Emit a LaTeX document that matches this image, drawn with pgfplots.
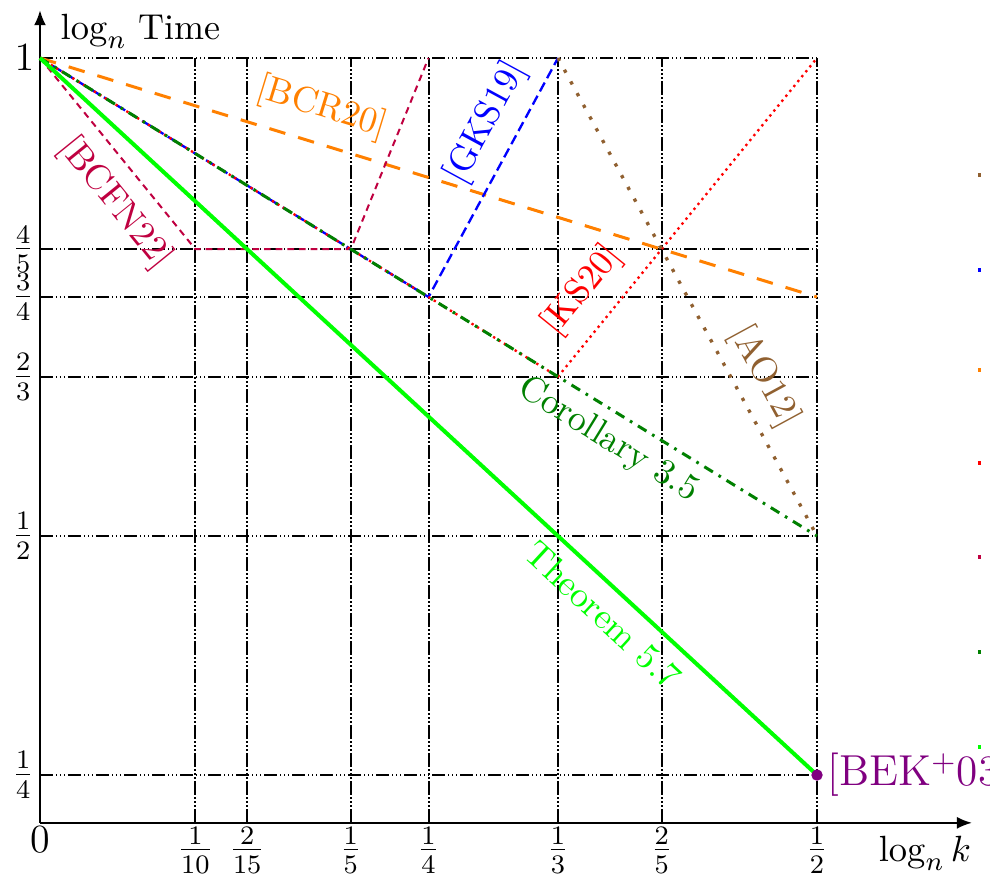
\documentclass[border=0pt]{standalone}
\usepackage{pgfplots}
\pgfplotsset{compat=1.18}
\usetikzlibrary{arrows.meta}
\colorlet{aobrown}{brown!75!black}
\begin{document}
\begin{tikzpicture}[lab/.style={font=\fontsize{10.8}{13}\selectfont}]
\begin{axis}[
  x=466.2pt, y=286.8pt,
  xmin=0, xmax=0.5997, ymin=0.2, ymax=1.05,
  axis lines=left,
  axis line style={line width=0.6pt, -{Latex[length=4.5pt,width=3.6pt]}},
  clip=false,
  major tick length=0pt,
  xtick={0,0.1,0.133333,0.2,0.25,0.333333,0.4,0.5},
  xticklabels={$0$,$\frac{1}{10}$,$\frac{2}{15}$,$\frac{1}{5}$,$\frac{1}{4}$,$\frac{1}{3}$,$\frac{2}{5}$,$\frac{1}{2}$},
  ytick={0.25,0.5,0.666667,0.75,0.8,1},
  yticklabels={$\frac{1}{4}$,$\frac{1}{2}$,$\frac{2}{3}$,$\frac{3}{4}$,$\frac{4}{5}$,$1$},
  tick label style={font=\large},
  xticklabel style={inner sep=0pt, yshift=-1pt},
  yticklabel style={inner sep=1.5pt},
  gridline/.style={black, line width=0.6pt, dash pattern=on 4pt off 0.8pt on 0.4pt off 0.8pt on 0.4pt off 0.8pt on 0.4pt off 0.8pt, forget plot},
]
% grid
\addplot[gridline] coordinates {(0.1,0.2) (0.1,1)};
\addplot[gridline] coordinates {(0.133333,0.2) (0.133333,1)};
\addplot[gridline] coordinates {(0.2,0.2) (0.2,1)};
\addplot[gridline] coordinates {(0.25,0.2) (0.25,1)};
\addplot[gridline] coordinates {(0.333333,0.2) (0.333333,1)};
\addplot[gridline] coordinates {(0.4,0.2) (0.4,1)};
\addplot[gridline] coordinates {(0.5,0.2) (0.5,1)};
\addplot[gridline] coordinates {(0,0.25) (0.5,0.25)};
\addplot[gridline] coordinates {(0,0.5) (0.5,0.5)};
\addplot[gridline] coordinates {(0,0.666667) (0.5,0.666667)};
\addplot[gridline] coordinates {(0,0.75) (0.5,0.75)};
\addplot[gridline] coordinates {(0,0.8) (0.5,0.8)};
\addplot[gridline] coordinates {(0,1) (0.5,1)};
% data
\addplot[orange, line width=0.9pt, dash pattern=on 5pt off 4pt] coordinates {(0,1) (0.5,0.75)};
\addplot[purple, line width=0.6pt, dash pattern=on 2pt off 1.5pt] coordinates {(0,1) (0.1,0.8) (0.2,0.8) (0.25,1)};
\addplot[blue, line width=0.7pt, dash pattern=on 3pt off 1.5pt] coordinates {(0,1) (0.25,0.75) (0.333333,1)};
\addplot[red, line width=0.7pt, dash pattern=on 0.7pt off 1.2pt] coordinates {(0,1) (0.333333,0.666667) (0.5,1)};
\addplot[aobrown, line width=1pt, dash pattern=on 1pt off 3pt] coordinates {(0.333333,1) (0.5,0.5)};
\addplot[green!50!black, line width=0.9pt, dash pattern=on 3pt off 2pt on 0.8pt off 2pt] coordinates {(0,1) (0.5,0.5)};
\addplot[green, line width=1.2pt] coordinates {(0,1) (0.5,0.25)};
\addplot[violet, only marks, mark=*, mark size=1.5pt] coordinates {(0.5,0.25)};
% legend fragments at the right edge
\addplot[aobrown, line width=1pt] coordinates {(0.6035,0.8776) (0.6055,0.8776)};
\addplot[blue, line width=1pt] coordinates {(0.6035,0.7782) (0.6055,0.7782)};
\addplot[orange, line width=1pt] coordinates {(0.6035,0.6736) (0.6055,0.6736)};
\addplot[red, line width=1pt] coordinates {(0.6035,0.5763) (0.6055,0.5763)};
\addplot[purple, line width=1pt] coordinates {(0.6035,0.4780) (0.6055,0.4780)};
\addplot[green!50!black, line width=1pt] coordinates {(0.6035,0.3787) (0.6055,0.3787)};
\addplot[green, line width=1pt] coordinates {(0.6035,0.2793) (0.6055,0.2793)};
% labels
\node[lab, rotate=-17.1, text=orange] at (axis cs:0.1815,0.9477) {[BCR20]};
\node[lab, rotate=-51, text=purple] at (axis cs:0.0483,0.8483) {[BCFN22]};
\node[lab, rotate=61.5, text=blue] at (axis cs:0.287,0.932) {[GKS19]};
\node[lab, rotate=51, text=red] at (axis cs:0.349,0.757) {[KS20]};
\node[lab, rotate=-61.5, text=aobrown] at (axis cs:0.466,0.667) {[AO12]};
\node[lab, rotate=-31.6, text=green!50!black] at (axis cs:0.3656,0.6004) {Corollary 3.5};
\node[lab, rotate=-42.7, text=green] at (axis cs:0.3623,0.4174) {Theorem 5.7};
\node[anchor=west, text=violet, inner sep=0pt, xshift=3pt, font=\fontsize{13}{15}\selectfont] at (axis cs:0.5,0.25) {[BEK$^+$03]};
\node[lab, anchor=north west, inner sep=0pt, xshift=6pt, yshift=-1pt] at (axis cs:0,1.05) {$\log_n$ Time};
\node[lab, anchor=north west, inner sep=0pt, yshift=-3.9pt] at (axis cs:0.5393,0.2) {$\log_n k$};
\coordinate (bbll) at (axis cs:-0.02574,0.14644);
\coordinate (bbur) at (axis cs:0.61133,1.06067);
\end{axis}
\pgfresetboundingbox
\useasboundingbox (bbll) rectangle (bbur);
\end{tikzpicture}
\end{document}
